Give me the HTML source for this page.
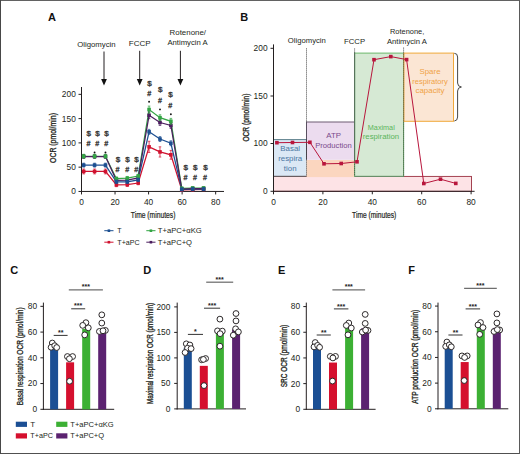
<!DOCTYPE html>
<html><head><meta charset="utf-8"><style>
html,body{margin:0;padding:0;background:#fff;}
body{width:520px;height:454px;overflow:hidden;}
svg{display:block;font-family:"Liberation Sans", sans-serif;}
</style></head><body>
<svg width="520" height="454" viewBox="0 0 520 454">
<text x="48" y="21" font-size="11" text-anchor="start" fill="#111" font-weight="bold" >A</text>
<text x="77.2" y="47.1" font-size="8" text-anchor="start" fill="#231f20" textLength="38.4" lengthAdjust="spacingAndGlyphs" >Oligomycin</text>
<text x="128.8" y="46.2" font-size="8" text-anchor="start" fill="#231f20" textLength="21.8" lengthAdjust="spacingAndGlyphs" >FCCP</text>
<text x="169.6" y="35.4" font-size="8" text-anchor="start" fill="#231f20" textLength="36.4" lengthAdjust="spacingAndGlyphs" >Rotenone/</text>
<text x="167.4" y="45.4" font-size="8" text-anchor="start" fill="#231f20" textLength="40.3" lengthAdjust="spacingAndGlyphs" >Antimycin A</text>
<line x1="104" y1="51.5" x2="104" y2="80.4" stroke="#231f20" stroke-width="1" />
<path d="M101.1,78.9 L106.9,78.9 L104,85.4 Z" fill="#111"/>
<line x1="139.7" y1="50.8" x2="139.7" y2="80.4" stroke="#231f20" stroke-width="1" />
<path d="M136.79999999999998,78.9 L142.6,78.9 L139.7,85.4 Z" fill="#111"/>
<line x1="180.4" y1="50.8" x2="180.4" y2="80.6" stroke="#231f20" stroke-width="1" />
<path d="M177.5,79.1 L183.3,79.1 L180.4,85.6 Z" fill="#111"/>
<line x1="81.5" y1="87" x2="81.5" y2="191.95" stroke="#231f20" stroke-width="1" />
<line x1="81.0" y1="191.45" x2="224" y2="191.45" stroke="#231f20" stroke-width="1" />
<line x1="78.5" y1="191.45" x2="81.5" y2="191.45" stroke="#231f20" stroke-width="1" />
<text x="75.8" y="194.35" font-size="8.4" text-anchor="end" fill="#231f20" >0</text>
<line x1="78.5" y1="167.17" x2="81.5" y2="167.17" stroke="#231f20" stroke-width="1" />
<text x="75.8" y="170.07" font-size="8.4" text-anchor="end" fill="#231f20" >50</text>
<line x1="78.5" y1="142.9" x2="81.5" y2="142.9" stroke="#231f20" stroke-width="1" />
<text x="75.8" y="145.8" font-size="8.4" text-anchor="end" fill="#231f20" >100</text>
<line x1="78.5" y1="118.62" x2="81.5" y2="118.62" stroke="#231f20" stroke-width="1" />
<text x="75.8" y="121.52000000000001" font-size="8.4" text-anchor="end" fill="#231f20" >150</text>
<line x1="78.5" y1="94.35" x2="81.5" y2="94.35" stroke="#231f20" stroke-width="1" />
<text x="75.8" y="97.25" font-size="8.4" text-anchor="end" fill="#231f20" >200</text>
<line x1="81.5" y1="191.45" x2="81.5" y2="194.45" stroke="#231f20" stroke-width="1" />
<text x="81.5" y="204.6" font-size="8.4" text-anchor="middle" fill="#231f20" >0</text>
<line x1="115.04" y1="191.45" x2="115.04" y2="194.45" stroke="#231f20" stroke-width="1" />
<text x="115.04" y="204.6" font-size="8.4" text-anchor="middle" fill="#231f20" >20</text>
<line x1="148.58" y1="191.45" x2="148.58" y2="194.45" stroke="#231f20" stroke-width="1" />
<text x="148.58" y="204.6" font-size="8.4" text-anchor="middle" fill="#231f20" >40</text>
<line x1="182.12" y1="191.45" x2="182.12" y2="194.45" stroke="#231f20" stroke-width="1" />
<text x="182.12" y="204.6" font-size="8.4" text-anchor="middle" fill="#231f20" >60</text>
<line x1="215.66" y1="191.45" x2="215.66" y2="194.45" stroke="#231f20" stroke-width="1" />
<text x="215.66" y="204.6" font-size="8.4" text-anchor="middle" fill="#231f20" >80</text>
<text x="130.8" y="217.6" font-size="9" text-anchor="start" fill="#231f20" textLength="44.6" lengthAdjust="spacingAndGlyphs" stroke="#231f20" stroke-width="0.22">Time (minutes)</text>
<text transform="translate(56.24,138) rotate(-90)" x="0" y="0" font-size="9" text-anchor="middle" fill="#231f20" stroke="#231f20" stroke-width="0.32" textLength="50" lengthAdjust="spacingAndGlyphs">OCR (pmol/min)</text>
<polyline points="83.68,171.45 94.58,171.45 105.48,171.45 116.38,184.94 127.28,184.7 138.18,183.01 149.08,146.87 159.98,151.93 170.88,154.82 181.78,189.76 192.69,189.52 203.59,189.28" fill="none" stroke="#d0122f" stroke-width="1.25"/>
<polyline points="83.68,165.13 94.58,165.13 105.48,165.13 116.38,181.81 127.28,181.81 138.18,179.88 149.08,131.83 159.98,139.06 170.88,143.25 181.78,189.38 192.69,189.14 203.59,189.14" fill="none" stroke="#1c4f91" stroke-width="1.25"/>
<polyline points="83.68,156.26 94.58,156.26 105.48,156.26 116.38,178.68 127.28,178.19 138.18,176.03 149.08,109.51 159.98,117.7 170.88,121.32 181.78,188.41 192.69,188.08 203.59,188.08" fill="none" stroke="#33a544" stroke-width="1.25"/>
<polyline points="83.68,156.5 94.58,156.5 105.48,156.5 116.38,180.36 127.28,180.12 138.18,177.95 149.08,115.29 159.98,122.52 170.88,125.42 181.78,189.04 192.69,188.56 203.59,188.56" fill="none" stroke="#4b1d5e" stroke-width="1.25"/>
<line x1="83.68" y1="168.99" x2="83.68" y2="173.91" stroke="#d0122f" stroke-width="0.8" />
<line x1="82.38000000000001" y1="168.99" x2="84.98" y2="168.99" stroke="#d0122f" stroke-width="0.7" />
<line x1="82.38000000000001" y1="173.91" x2="84.98" y2="173.91" stroke="#d0122f" stroke-width="0.7" />
<rect x="81.88000000000001" y="169.64999999999998" width="3.6" height="3.6" fill="#d0122f"/>
<line x1="94.58" y1="168.99" x2="94.58" y2="173.91" stroke="#d0122f" stroke-width="0.8" />
<line x1="93.28" y1="168.99" x2="95.88" y2="168.99" stroke="#d0122f" stroke-width="0.7" />
<line x1="93.28" y1="173.91" x2="95.88" y2="173.91" stroke="#d0122f" stroke-width="0.7" />
<rect x="92.78" y="169.64999999999998" width="3.6" height="3.6" fill="#d0122f"/>
<line x1="105.48" y1="168.99" x2="105.48" y2="173.91" stroke="#d0122f" stroke-width="0.8" />
<line x1="104.18" y1="168.99" x2="106.78" y2="168.99" stroke="#d0122f" stroke-width="0.7" />
<line x1="104.18" y1="173.91" x2="106.78" y2="173.91" stroke="#d0122f" stroke-width="0.7" />
<rect x="103.68" y="169.64999999999998" width="3.6" height="3.6" fill="#d0122f"/>
<line x1="116.38" y1="183.21" x2="116.38" y2="186.67" stroke="#d0122f" stroke-width="0.8" />
<line x1="115.08" y1="183.21" x2="117.67999999999999" y2="183.21" stroke="#d0122f" stroke-width="0.7" />
<line x1="115.08" y1="186.67" x2="117.67999999999999" y2="186.67" stroke="#d0122f" stroke-width="0.7" />
<rect x="114.58" y="183.14" width="3.6" height="3.6" fill="#d0122f"/>
<line x1="127.28" y1="182.97" x2="127.28" y2="186.43" stroke="#d0122f" stroke-width="0.8" />
<line x1="125.98" y1="182.97" x2="128.58" y2="182.97" stroke="#d0122f" stroke-width="0.7" />
<line x1="125.98" y1="186.43" x2="128.58" y2="186.43" stroke="#d0122f" stroke-width="0.7" />
<rect x="125.48" y="182.89999999999998" width="3.6" height="3.6" fill="#d0122f"/>
<line x1="138.18" y1="181.28" x2="138.18" y2="184.74" stroke="#d0122f" stroke-width="0.8" />
<line x1="136.88" y1="181.28" x2="139.48000000000002" y2="181.28" stroke="#d0122f" stroke-width="0.7" />
<line x1="136.88" y1="184.74" x2="139.48000000000002" y2="184.74" stroke="#d0122f" stroke-width="0.7" />
<rect x="136.38" y="181.20999999999998" width="3.6" height="3.6" fill="#d0122f"/>
<line x1="149.08" y1="141.26" x2="149.08" y2="152.48" stroke="#d0122f" stroke-width="0.8" />
<line x1="147.78" y1="141.26" x2="150.38000000000002" y2="141.26" stroke="#d0122f" stroke-width="0.7" />
<line x1="147.78" y1="152.48" x2="150.38000000000002" y2="152.48" stroke="#d0122f" stroke-width="0.7" />
<rect x="147.28" y="145.07" width="3.6" height="3.6" fill="#d0122f"/>
<line x1="159.98" y1="146.8" x2="159.98" y2="157.06" stroke="#d0122f" stroke-width="0.8" />
<line x1="158.67999999999998" y1="146.8" x2="161.28" y2="146.8" stroke="#d0122f" stroke-width="0.7" />
<line x1="158.67999999999998" y1="157.06" x2="161.28" y2="157.06" stroke="#d0122f" stroke-width="0.7" />
<rect x="158.17999999999998" y="150.13" width="3.6" height="3.6" fill="#d0122f"/>
<line x1="170.88" y1="150.42" x2="170.88" y2="159.22" stroke="#d0122f" stroke-width="0.8" />
<line x1="169.57999999999998" y1="150.42" x2="172.18" y2="150.42" stroke="#d0122f" stroke-width="0.7" />
<line x1="169.57999999999998" y1="159.22" x2="172.18" y2="159.22" stroke="#d0122f" stroke-width="0.7" />
<rect x="169.07999999999998" y="153.01999999999998" width="3.6" height="3.6" fill="#d0122f"/>
<line x1="181.78" y1="188.27" x2="181.78" y2="191.25" stroke="#d0122f" stroke-width="0.8" />
<line x1="180.48" y1="188.27" x2="183.08" y2="188.27" stroke="#d0122f" stroke-width="0.7" />
<line x1="180.48" y1="191.25" x2="183.08" y2="191.25" stroke="#d0122f" stroke-width="0.7" />
<rect x="179.98" y="187.95999999999998" width="3.6" height="3.6" fill="#d0122f"/>
<line x1="192.69" y1="188.03" x2="192.69" y2="191.01" stroke="#d0122f" stroke-width="0.8" />
<line x1="191.39" y1="188.03" x2="193.99" y2="188.03" stroke="#d0122f" stroke-width="0.7" />
<line x1="191.39" y1="191.01" x2="193.99" y2="191.01" stroke="#d0122f" stroke-width="0.7" />
<rect x="190.89" y="187.72" width="3.6" height="3.6" fill="#d0122f"/>
<line x1="203.59" y1="187.79" x2="203.59" y2="190.77" stroke="#d0122f" stroke-width="0.8" />
<line x1="202.29" y1="187.79" x2="204.89000000000001" y2="187.79" stroke="#d0122f" stroke-width="0.7" />
<line x1="202.29" y1="190.77" x2="204.89000000000001" y2="190.77" stroke="#d0122f" stroke-width="0.7" />
<rect x="201.79" y="187.48" width="3.6" height="3.6" fill="#d0122f"/>
<line x1="83.68" y1="154.53" x2="83.68" y2="158.47" stroke="#4b1d5e" stroke-width="0.8" />
<line x1="82.38000000000001" y1="154.53" x2="84.98" y2="154.53" stroke="#4b1d5e" stroke-width="0.7" />
<line x1="82.38000000000001" y1="158.47" x2="84.98" y2="158.47" stroke="#4b1d5e" stroke-width="0.7" />
<rect x="81.88000000000001" y="154.7" width="3.6" height="3.6" fill="#4b1d5e"/>
<line x1="94.58" y1="154.53" x2="94.58" y2="158.47" stroke="#4b1d5e" stroke-width="0.8" />
<line x1="93.28" y1="154.53" x2="95.88" y2="154.53" stroke="#4b1d5e" stroke-width="0.7" />
<line x1="93.28" y1="158.47" x2="95.88" y2="158.47" stroke="#4b1d5e" stroke-width="0.7" />
<rect x="92.78" y="154.7" width="3.6" height="3.6" fill="#4b1d5e"/>
<line x1="105.48" y1="154.53" x2="105.48" y2="158.47" stroke="#4b1d5e" stroke-width="0.8" />
<line x1="104.18" y1="154.53" x2="106.78" y2="154.53" stroke="#4b1d5e" stroke-width="0.7" />
<line x1="104.18" y1="158.47" x2="106.78" y2="158.47" stroke="#4b1d5e" stroke-width="0.7" />
<rect x="103.68" y="154.7" width="3.6" height="3.6" fill="#4b1d5e"/>
<line x1="116.38" y1="178.63" x2="116.38" y2="182.09" stroke="#4b1d5e" stroke-width="0.8" />
<line x1="115.08" y1="178.63" x2="117.67999999999999" y2="178.63" stroke="#4b1d5e" stroke-width="0.7" />
<line x1="115.08" y1="182.09" x2="117.67999999999999" y2="182.09" stroke="#4b1d5e" stroke-width="0.7" />
<rect x="114.58" y="178.56" width="3.6" height="3.6" fill="#4b1d5e"/>
<line x1="127.28" y1="178.39" x2="127.28" y2="181.85" stroke="#4b1d5e" stroke-width="0.8" />
<line x1="125.98" y1="178.39" x2="128.58" y2="178.39" stroke="#4b1d5e" stroke-width="0.7" />
<line x1="125.98" y1="181.85" x2="128.58" y2="181.85" stroke="#4b1d5e" stroke-width="0.7" />
<rect x="125.48" y="178.32" width="3.6" height="3.6" fill="#4b1d5e"/>
<line x1="138.18" y1="176.22" x2="138.18" y2="179.68" stroke="#4b1d5e" stroke-width="0.8" />
<line x1="136.88" y1="176.22" x2="139.48000000000002" y2="176.22" stroke="#4b1d5e" stroke-width="0.7" />
<line x1="136.88" y1="179.68" x2="139.48000000000002" y2="179.68" stroke="#4b1d5e" stroke-width="0.7" />
<rect x="136.38" y="176.14999999999998" width="3.6" height="3.6" fill="#4b1d5e"/>
<line x1="149.08" y1="111.86" x2="149.08" y2="118.72" stroke="#4b1d5e" stroke-width="0.8" />
<line x1="147.78" y1="111.86" x2="150.38000000000002" y2="111.86" stroke="#4b1d5e" stroke-width="0.7" />
<line x1="147.78" y1="118.72" x2="150.38000000000002" y2="118.72" stroke="#4b1d5e" stroke-width="0.7" />
<rect x="147.28" y="113.49000000000001" width="3.6" height="3.6" fill="#4b1d5e"/>
<line x1="159.98" y1="119.58" x2="159.98" y2="125.46" stroke="#4b1d5e" stroke-width="0.8" />
<line x1="158.67999999999998" y1="119.58" x2="161.28" y2="119.58" stroke="#4b1d5e" stroke-width="0.7" />
<line x1="158.67999999999998" y1="125.46" x2="161.28" y2="125.46" stroke="#4b1d5e" stroke-width="0.7" />
<rect x="158.17999999999998" y="120.72" width="3.6" height="3.6" fill="#4b1d5e"/>
<line x1="170.88" y1="122.48" x2="170.88" y2="128.36" stroke="#4b1d5e" stroke-width="0.8" />
<line x1="169.57999999999998" y1="122.48" x2="172.18" y2="122.48" stroke="#4b1d5e" stroke-width="0.7" />
<line x1="169.57999999999998" y1="128.36" x2="172.18" y2="128.36" stroke="#4b1d5e" stroke-width="0.7" />
<rect x="169.07999999999998" y="123.62" width="3.6" height="3.6" fill="#4b1d5e"/>
<line x1="181.78" y1="187.55" x2="181.78" y2="190.53" stroke="#4b1d5e" stroke-width="0.8" />
<line x1="180.48" y1="187.55" x2="183.08" y2="187.55" stroke="#4b1d5e" stroke-width="0.7" />
<line x1="180.48" y1="190.53" x2="183.08" y2="190.53" stroke="#4b1d5e" stroke-width="0.7" />
<rect x="179.98" y="187.23999999999998" width="3.6" height="3.6" fill="#4b1d5e"/>
<line x1="192.69" y1="187.07" x2="192.69" y2="190.05" stroke="#4b1d5e" stroke-width="0.8" />
<line x1="191.39" y1="187.07" x2="193.99" y2="187.07" stroke="#4b1d5e" stroke-width="0.7" />
<line x1="191.39" y1="190.05" x2="193.99" y2="190.05" stroke="#4b1d5e" stroke-width="0.7" />
<rect x="190.89" y="186.76" width="3.6" height="3.6" fill="#4b1d5e"/>
<line x1="203.59" y1="187.07" x2="203.59" y2="190.05" stroke="#4b1d5e" stroke-width="0.8" />
<line x1="202.29" y1="187.07" x2="204.89000000000001" y2="187.07" stroke="#4b1d5e" stroke-width="0.7" />
<line x1="202.29" y1="190.05" x2="204.89000000000001" y2="190.05" stroke="#4b1d5e" stroke-width="0.7" />
<rect x="201.79" y="186.76" width="3.6" height="3.6" fill="#4b1d5e"/>
<line x1="83.68" y1="154.29" x2="83.68" y2="158.23" stroke="#33a544" stroke-width="0.8" />
<line x1="82.38000000000001" y1="154.29" x2="84.98" y2="154.29" stroke="#33a544" stroke-width="0.7" />
<line x1="82.38000000000001" y1="158.23" x2="84.98" y2="158.23" stroke="#33a544" stroke-width="0.7" />
<rect x="81.88000000000001" y="154.45999999999998" width="3.6" height="3.6" fill="#33a544"/>
<line x1="94.58" y1="154.29" x2="94.58" y2="158.23" stroke="#33a544" stroke-width="0.8" />
<line x1="93.28" y1="154.29" x2="95.88" y2="154.29" stroke="#33a544" stroke-width="0.7" />
<line x1="93.28" y1="158.23" x2="95.88" y2="158.23" stroke="#33a544" stroke-width="0.7" />
<rect x="92.78" y="154.45999999999998" width="3.6" height="3.6" fill="#33a544"/>
<line x1="105.48" y1="154.29" x2="105.48" y2="158.23" stroke="#33a544" stroke-width="0.8" />
<line x1="104.18" y1="154.29" x2="106.78" y2="154.29" stroke="#33a544" stroke-width="0.7" />
<line x1="104.18" y1="158.23" x2="106.78" y2="158.23" stroke="#33a544" stroke-width="0.7" />
<rect x="103.68" y="154.45999999999998" width="3.6" height="3.6" fill="#33a544"/>
<line x1="116.38" y1="176.95" x2="116.38" y2="180.41" stroke="#33a544" stroke-width="0.8" />
<line x1="115.08" y1="176.95" x2="117.67999999999999" y2="176.95" stroke="#33a544" stroke-width="0.7" />
<line x1="115.08" y1="180.41" x2="117.67999999999999" y2="180.41" stroke="#33a544" stroke-width="0.7" />
<rect x="114.58" y="176.88" width="3.6" height="3.6" fill="#33a544"/>
<line x1="127.28" y1="176.46" x2="127.28" y2="179.92" stroke="#33a544" stroke-width="0.8" />
<line x1="125.98" y1="176.46" x2="128.58" y2="176.46" stroke="#33a544" stroke-width="0.7" />
<line x1="125.98" y1="179.92" x2="128.58" y2="179.92" stroke="#33a544" stroke-width="0.7" />
<rect x="125.48" y="176.39" width="3.6" height="3.6" fill="#33a544"/>
<line x1="138.18" y1="174.3" x2="138.18" y2="177.76" stroke="#33a544" stroke-width="0.8" />
<line x1="136.88" y1="174.3" x2="139.48000000000002" y2="174.3" stroke="#33a544" stroke-width="0.7" />
<line x1="136.88" y1="177.76" x2="139.48000000000002" y2="177.76" stroke="#33a544" stroke-width="0.7" />
<rect x="136.38" y="174.23" width="3.6" height="3.6" fill="#33a544"/>
<line x1="149.08" y1="106.08" x2="149.08" y2="112.94" stroke="#33a544" stroke-width="0.8" />
<line x1="147.78" y1="106.08" x2="150.38000000000002" y2="106.08" stroke="#33a544" stroke-width="0.7" />
<line x1="147.78" y1="112.94" x2="150.38000000000002" y2="112.94" stroke="#33a544" stroke-width="0.7" />
<rect x="147.28" y="107.71000000000001" width="3.6" height="3.6" fill="#33a544"/>
<line x1="159.98" y1="114.76" x2="159.98" y2="120.64" stroke="#33a544" stroke-width="0.8" />
<line x1="158.67999999999998" y1="114.76" x2="161.28" y2="114.76" stroke="#33a544" stroke-width="0.7" />
<line x1="158.67999999999998" y1="120.64" x2="161.28" y2="120.64" stroke="#33a544" stroke-width="0.7" />
<rect x="158.17999999999998" y="115.9" width="3.6" height="3.6" fill="#33a544"/>
<line x1="170.88" y1="118.38" x2="170.88" y2="124.26" stroke="#33a544" stroke-width="0.8" />
<line x1="169.57999999999998" y1="118.38" x2="172.18" y2="118.38" stroke="#33a544" stroke-width="0.7" />
<line x1="169.57999999999998" y1="124.26" x2="172.18" y2="124.26" stroke="#33a544" stroke-width="0.7" />
<rect x="169.07999999999998" y="119.52" width="3.6" height="3.6" fill="#33a544"/>
<line x1="181.78" y1="186.92" x2="181.78" y2="189.9" stroke="#33a544" stroke-width="0.8" />
<line x1="180.48" y1="186.92" x2="183.08" y2="186.92" stroke="#33a544" stroke-width="0.7" />
<line x1="180.48" y1="189.9" x2="183.08" y2="189.9" stroke="#33a544" stroke-width="0.7" />
<rect x="179.98" y="186.60999999999999" width="3.6" height="3.6" fill="#33a544"/>
<line x1="192.69" y1="186.59" x2="192.69" y2="189.57" stroke="#33a544" stroke-width="0.8" />
<line x1="191.39" y1="186.59" x2="193.99" y2="186.59" stroke="#33a544" stroke-width="0.7" />
<line x1="191.39" y1="189.57" x2="193.99" y2="189.57" stroke="#33a544" stroke-width="0.7" />
<rect x="190.89" y="186.28" width="3.6" height="3.6" fill="#33a544"/>
<line x1="203.59" y1="186.59" x2="203.59" y2="189.57" stroke="#33a544" stroke-width="0.8" />
<line x1="202.29" y1="186.59" x2="204.89000000000001" y2="186.59" stroke="#33a544" stroke-width="0.7" />
<line x1="202.29" y1="189.57" x2="204.89000000000001" y2="189.57" stroke="#33a544" stroke-width="0.7" />
<rect x="201.79" y="186.28" width="3.6" height="3.6" fill="#33a544"/>
<line x1="83.68" y1="163.16" x2="83.68" y2="167.1" stroke="#1c4f91" stroke-width="0.8" />
<line x1="82.38000000000001" y1="163.16" x2="84.98" y2="163.16" stroke="#1c4f91" stroke-width="0.7" />
<line x1="82.38000000000001" y1="167.1" x2="84.98" y2="167.1" stroke="#1c4f91" stroke-width="0.7" />
<rect x="81.88000000000001" y="163.32999999999998" width="3.6" height="3.6" fill="#1c4f91"/>
<line x1="94.58" y1="163.16" x2="94.58" y2="167.1" stroke="#1c4f91" stroke-width="0.8" />
<line x1="93.28" y1="163.16" x2="95.88" y2="163.16" stroke="#1c4f91" stroke-width="0.7" />
<line x1="93.28" y1="167.1" x2="95.88" y2="167.1" stroke="#1c4f91" stroke-width="0.7" />
<rect x="92.78" y="163.32999999999998" width="3.6" height="3.6" fill="#1c4f91"/>
<line x1="105.48" y1="163.16" x2="105.48" y2="167.1" stroke="#1c4f91" stroke-width="0.8" />
<line x1="104.18" y1="163.16" x2="106.78" y2="163.16" stroke="#1c4f91" stroke-width="0.7" />
<line x1="104.18" y1="167.1" x2="106.78" y2="167.1" stroke="#1c4f91" stroke-width="0.7" />
<rect x="103.68" y="163.32999999999998" width="3.6" height="3.6" fill="#1c4f91"/>
<line x1="116.38" y1="180.08" x2="116.38" y2="183.54" stroke="#1c4f91" stroke-width="0.8" />
<line x1="115.08" y1="180.08" x2="117.67999999999999" y2="180.08" stroke="#1c4f91" stroke-width="0.7" />
<line x1="115.08" y1="183.54" x2="117.67999999999999" y2="183.54" stroke="#1c4f91" stroke-width="0.7" />
<rect x="114.58" y="180.01" width="3.6" height="3.6" fill="#1c4f91"/>
<line x1="127.28" y1="180.08" x2="127.28" y2="183.54" stroke="#1c4f91" stroke-width="0.8" />
<line x1="125.98" y1="180.08" x2="128.58" y2="180.08" stroke="#1c4f91" stroke-width="0.7" />
<line x1="125.98" y1="183.54" x2="128.58" y2="183.54" stroke="#1c4f91" stroke-width="0.7" />
<rect x="125.48" y="180.01" width="3.6" height="3.6" fill="#1c4f91"/>
<line x1="138.18" y1="178.15" x2="138.18" y2="181.61" stroke="#1c4f91" stroke-width="0.8" />
<line x1="136.88" y1="178.15" x2="139.48000000000002" y2="178.15" stroke="#1c4f91" stroke-width="0.7" />
<line x1="136.88" y1="181.61" x2="139.48000000000002" y2="181.61" stroke="#1c4f91" stroke-width="0.7" />
<rect x="136.38" y="178.07999999999998" width="3.6" height="3.6" fill="#1c4f91"/>
<line x1="149.08" y1="129.37" x2="149.08" y2="134.29" stroke="#1c4f91" stroke-width="0.8" />
<line x1="147.78" y1="129.37" x2="150.38000000000002" y2="129.37" stroke="#1c4f91" stroke-width="0.7" />
<line x1="147.78" y1="134.29" x2="150.38000000000002" y2="134.29" stroke="#1c4f91" stroke-width="0.7" />
<rect x="147.28" y="130.03" width="3.6" height="3.6" fill="#1c4f91"/>
<line x1="159.98" y1="136.6" x2="159.98" y2="141.52" stroke="#1c4f91" stroke-width="0.8" />
<line x1="158.67999999999998" y1="136.6" x2="161.28" y2="136.6" stroke="#1c4f91" stroke-width="0.7" />
<line x1="158.67999999999998" y1="141.52" x2="161.28" y2="141.52" stroke="#1c4f91" stroke-width="0.7" />
<rect x="158.17999999999998" y="137.26" width="3.6" height="3.6" fill="#1c4f91"/>
<line x1="170.88" y1="140.79" x2="170.88" y2="145.71" stroke="#1c4f91" stroke-width="0.8" />
<line x1="169.57999999999998" y1="140.79" x2="172.18" y2="140.79" stroke="#1c4f91" stroke-width="0.7" />
<line x1="169.57999999999998" y1="145.71" x2="172.18" y2="145.71" stroke="#1c4f91" stroke-width="0.7" />
<rect x="169.07999999999998" y="141.45" width="3.6" height="3.6" fill="#1c4f91"/>
<line x1="181.78" y1="187.89" x2="181.78" y2="190.87" stroke="#1c4f91" stroke-width="0.8" />
<line x1="180.48" y1="187.89" x2="183.08" y2="187.89" stroke="#1c4f91" stroke-width="0.7" />
<line x1="180.48" y1="190.87" x2="183.08" y2="190.87" stroke="#1c4f91" stroke-width="0.7" />
<rect x="179.98" y="187.57999999999998" width="3.6" height="3.6" fill="#1c4f91"/>
<line x1="192.69" y1="187.65" x2="192.69" y2="190.63" stroke="#1c4f91" stroke-width="0.8" />
<line x1="191.39" y1="187.65" x2="193.99" y2="187.65" stroke="#1c4f91" stroke-width="0.7" />
<line x1="191.39" y1="190.63" x2="193.99" y2="190.63" stroke="#1c4f91" stroke-width="0.7" />
<rect x="190.89" y="187.33999999999997" width="3.6" height="3.6" fill="#1c4f91"/>
<line x1="203.59" y1="187.65" x2="203.59" y2="190.63" stroke="#1c4f91" stroke-width="0.8" />
<line x1="202.29" y1="187.65" x2="204.89000000000001" y2="187.65" stroke="#1c4f91" stroke-width="0.7" />
<line x1="202.29" y1="190.63" x2="204.89000000000001" y2="190.63" stroke="#1c4f91" stroke-width="0.7" />
<rect x="201.79" y="187.33999999999997" width="3.6" height="3.6" fill="#1c4f91"/>
<text x="88.7" y="135.6" font-size="7.4" text-anchor="middle" fill="#3a3a3a" textLength="4.5" lengthAdjust="spacingAndGlyphs" stroke="#3a3a3a" stroke-width="0.35">$</text>
<text x="88.4" y="146.0" font-size="7.2" text-anchor="middle" fill="#3a3a3a" stroke="#3a3a3a" stroke-width="0.35">#</text>
<text x="97.5" y="135.6" font-size="7.4" text-anchor="middle" fill="#3a3a3a" textLength="4.5" lengthAdjust="spacingAndGlyphs" stroke="#3a3a3a" stroke-width="0.35">$</text>
<text x="97.2" y="146.0" font-size="7.2" text-anchor="middle" fill="#3a3a3a" stroke="#3a3a3a" stroke-width="0.35">#</text>
<circle cx="94.58" cy="152.5" r="0.95" fill="#111"/>
<text x="106.6" y="135.6" font-size="7.4" text-anchor="middle" fill="#3a3a3a" textLength="4.5" lengthAdjust="spacingAndGlyphs" stroke="#3a3a3a" stroke-width="0.35">$</text>
<text x="106.3" y="146.0" font-size="7.2" text-anchor="middle" fill="#3a3a3a" stroke="#3a3a3a" stroke-width="0.35">#</text>
<circle cx="105.48" cy="152.5" r="0.95" fill="#111"/>
<text x="117.9" y="161.7" font-size="7.4" text-anchor="middle" fill="#3a3a3a" textLength="4.5" lengthAdjust="spacingAndGlyphs" stroke="#3a3a3a" stroke-width="0.35">$</text>
<text x="117.60000000000001" y="171.5" font-size="7.2" text-anchor="middle" fill="#3a3a3a" stroke="#3a3a3a" stroke-width="0.35">#</text>
<text x="127.6" y="161.7" font-size="7.4" text-anchor="middle" fill="#3a3a3a" textLength="4.5" lengthAdjust="spacingAndGlyphs" stroke="#3a3a3a" stroke-width="0.35">$</text>
<text x="127.3" y="171.5" font-size="7.2" text-anchor="middle" fill="#3a3a3a" stroke="#3a3a3a" stroke-width="0.35">#</text>
<text x="136.5" y="161.7" font-size="7.4" text-anchor="middle" fill="#3a3a3a" textLength="4.5" lengthAdjust="spacingAndGlyphs" stroke="#3a3a3a" stroke-width="0.35">$</text>
<text x="136.2" y="171.5" font-size="7.2" text-anchor="middle" fill="#3a3a3a" stroke="#3a3a3a" stroke-width="0.35">#</text>
<text x="149.5" y="85.89999999999999" font-size="7.4" text-anchor="middle" fill="#3a3a3a" textLength="4.5" lengthAdjust="spacingAndGlyphs" stroke="#3a3a3a" stroke-width="0.35">$</text>
<text x="149.2" y="95.5" font-size="7.2" text-anchor="middle" fill="#3a3a3a" stroke="#3a3a3a" stroke-width="0.35">#</text>
<circle cx="149.08" cy="101.8" r="0.95" fill="#111"/>
<text x="160.2" y="92.3" font-size="7.4" text-anchor="middle" fill="#3a3a3a" textLength="4.5" lengthAdjust="spacingAndGlyphs" stroke="#3a3a3a" stroke-width="0.35">$</text>
<text x="159.89999999999998" y="103.3" font-size="7.2" text-anchor="middle" fill="#3a3a3a" stroke="#3a3a3a" stroke-width="0.35">#</text>
<circle cx="159.98" cy="109.4" r="0.95" fill="#111"/>
<text x="170.6" y="96.6" font-size="7.4" text-anchor="middle" fill="#3a3a3a" textLength="4.5" lengthAdjust="spacingAndGlyphs" stroke="#3a3a3a" stroke-width="0.35">$</text>
<text x="170.29999999999998" y="107.6" font-size="7.2" text-anchor="middle" fill="#3a3a3a" stroke="#3a3a3a" stroke-width="0.35">#</text>
<circle cx="170.88" cy="114.2" r="0.95" fill="#111"/>
<text x="185.7" y="169.6" font-size="7.4" text-anchor="middle" fill="#3a3a3a" textLength="4.5" lengthAdjust="spacingAndGlyphs" stroke="#3a3a3a" stroke-width="0.35">$</text>
<text x="185.39999999999998" y="180.0" font-size="7.2" text-anchor="middle" fill="#3a3a3a" stroke="#3a3a3a" stroke-width="0.35">#</text>
<text x="195.2" y="169.6" font-size="7.4" text-anchor="middle" fill="#3a3a3a" textLength="4.5" lengthAdjust="spacingAndGlyphs" stroke="#3a3a3a" stroke-width="0.35">$</text>
<text x="194.89999999999998" y="180.0" font-size="7.2" text-anchor="middle" fill="#3a3a3a" stroke="#3a3a3a" stroke-width="0.35">#</text>
<text x="205.4" y="169.6" font-size="7.4" text-anchor="middle" fill="#3a3a3a" textLength="4.5" lengthAdjust="spacingAndGlyphs" stroke="#3a3a3a" stroke-width="0.35">$</text>
<text x="205.1" y="180.0" font-size="7.2" text-anchor="middle" fill="#3a3a3a" stroke="#3a3a3a" stroke-width="0.35">#</text>
<line x1="104.3" y1="230.7" x2="113.5" y2="230.7" stroke="#1c4f91" stroke-width="1" />
<rect x="107.60000000000001" y="229.39999999999998" width="2.6" height="2.6" fill="#1c4f91"/>
<text x="117.3" y="233.2" font-size="7" text-anchor="start" fill="#231f20" >T</text>
<line x1="104.3" y1="242.2" x2="113.5" y2="242.2" stroke="#d0122f" stroke-width="1" />
<rect x="107.60000000000001" y="240.89999999999998" width="2.6" height="2.6" fill="#d0122f"/>
<text x="117.3" y="244.6" font-size="7" text-anchor="start" fill="#231f20" textLength="22.3" lengthAdjust="spacingAndGlyphs" >T+aPC</text>
<line x1="146.3" y1="230.7" x2="155.5" y2="230.7" stroke="#33a544" stroke-width="1" />
<rect x="149.6" y="229.39999999999998" width="2.6" height="2.6" fill="#33a544"/>
<text x="157.8" y="233.2" font-size="7" text-anchor="start" fill="#231f20" textLength="44" lengthAdjust="spacingAndGlyphs" >T+aPC+&#945;KG</text>
<line x1="146.3" y1="242.2" x2="155.5" y2="242.2" stroke="#4b1d5e" stroke-width="1" />
<rect x="149.6" y="240.89999999999998" width="2.6" height="2.6" fill="#4b1d5e"/>
<text x="157.8" y="244.6" font-size="7" text-anchor="start" fill="#231f20" textLength="34.2" lengthAdjust="spacingAndGlyphs" >T+aPC+Q</text>
<text x="240.3" y="21" font-size="11" text-anchor="start" fill="#111" font-weight="bold" >B</text>
<rect x="273.5" y="176.4" width="198" height="14.9" fill="#fde3e6" stroke="#9a3040" stroke-width="0.9"/>
<rect x="273.5" y="139.6" width="33" height="36.7" fill="#dbe8f5"/>
<line x1="273.5" y1="139.6" x2="306.5" y2="139.6" stroke="#5d7f8c" stroke-width="1" />
<line x1="273.5" y1="176.3" x2="306.5" y2="176.3" stroke="#555" stroke-width="1" />
<rect x="306.5" y="159.8" width="48" height="17.3" fill="#fbd6bf"/>
<rect x="306.5" y="122" width="48" height="37.8" fill="#ecdcef"/>
<line x1="306.5" y1="122" x2="354.6" y2="122" stroke="#6d5a73" stroke-width="1" />
<line x1="306.5" y1="121.5" x2="306.5" y2="159.8" stroke="#5a5060" stroke-width="1" />
<rect x="354.6" y="53.1" width="49" height="123.3" fill="#d6e9d4" stroke="#6cb86c" stroke-width="1"/>
<line x1="354.6" y1="176.4" x2="403.6" y2="176.4" stroke="#6a8a6a" stroke-width="1" />
<line x1="354.6" y1="52.6" x2="354.6" y2="160" stroke="#55705a" stroke-width="1.1" />
<rect x="403.9" y="53.1" width="49.6" height="68.2" fill="#fbe6d4" stroke="#f0a83a" stroke-width="1"/>
<line x1="306.5" y1="48.4" x2="306.5" y2="122" stroke="#333" stroke-width="0.9" stroke-dasharray="1 1"/>
<line x1="306.5" y1="139.6" x2="306.5" y2="176.3" stroke="#333" stroke-width="0.9" stroke-dasharray="1 1"/>
<line x1="354.6" y1="48.5" x2="354.6" y2="53" stroke="#333" stroke-width="0.9" stroke-dasharray="1 1"/>
<line x1="354.6" y1="160.3" x2="354.6" y2="176.3" stroke="#333" stroke-width="0.9" stroke-dasharray="1 1"/>
<line x1="403.6" y1="47.6" x2="403.6" y2="176.3" stroke="#333" stroke-width="0.9" stroke-dasharray="1 1"/>
<path d="M454.3,53.3 Q457.6,53.3 457.6,57 L457.6,83 Q457.6,86.6 461.4,87 Q457.6,87.4 457.6,91 L457.6,117 Q457.6,120.8 454.3,121" fill="none" stroke="#333" stroke-width="0.9"/>
<line x1="273.5" y1="44.4" x2="273.5" y2="191.8" stroke="#231f20" stroke-width="1" />
<line x1="273" y1="191.3" x2="474.6" y2="191.3" stroke="#231f20" stroke-width="1" />
<line x1="270.5" y1="48.3" x2="273.5" y2="48.3" stroke="#231f20" stroke-width="1" />
<text x="267.6" y="51.199999999999996" font-size="8.4" text-anchor="end" fill="#231f20" >200</text>
<line x1="270.5" y1="96" x2="273.5" y2="96" stroke="#231f20" stroke-width="1" />
<text x="267.6" y="98.9" font-size="8.4" text-anchor="end" fill="#231f20" >150</text>
<line x1="270.5" y1="143.5" x2="273.5" y2="143.5" stroke="#231f20" stroke-width="1" />
<text x="267.6" y="146.4" font-size="8.4" text-anchor="end" fill="#231f20" >100</text>
<line x1="270.5" y1="191.3" x2="273.5" y2="191.3" stroke="#231f20" stroke-width="1" />
<text x="267.6" y="194.20000000000002" font-size="8.4" text-anchor="end" fill="#231f20" >0</text>
<line x1="273.5" y1="191.3" x2="273.5" y2="194.3" stroke="#231f20" stroke-width="1" />
<text x="273.5" y="204.6" font-size="8.4" text-anchor="middle" fill="#231f20" >0</text>
<line x1="322.9" y1="191.3" x2="322.9" y2="194.3" stroke="#231f20" stroke-width="1" />
<text x="322.9" y="204.6" font-size="8.4" text-anchor="middle" fill="#231f20" >20</text>
<line x1="372.3" y1="191.3" x2="372.3" y2="194.3" stroke="#231f20" stroke-width="1" />
<text x="372.3" y="204.6" font-size="8.4" text-anchor="middle" fill="#231f20" >40</text>
<line x1="421.7" y1="191.3" x2="421.7" y2="194.3" stroke="#231f20" stroke-width="1" />
<text x="421.7" y="204.6" font-size="8.4" text-anchor="middle" fill="#231f20" >60</text>
<line x1="471.1" y1="191.3" x2="471.1" y2="194.3" stroke="#231f20" stroke-width="1" />
<text x="471.1" y="204.6" font-size="8.4" text-anchor="middle" fill="#231f20" >80</text>
<text x="352.1" y="217.7" font-size="9" text-anchor="start" fill="#231f20" textLength="44.2" lengthAdjust="spacingAndGlyphs" stroke="#231f20" stroke-width="0.22">Time (minutes)</text>
<text transform="translate(248.54000000000002,117.6) rotate(-90)" x="0" y="0" font-size="9" text-anchor="middle" fill="#231f20" stroke="#231f20" stroke-width="0.32" textLength="48" lengthAdjust="spacingAndGlyphs">OCR (pmol/min)</text>
<text x="287.8" y="43.2" font-size="8" text-anchor="start" fill="#231f20" textLength="38" lengthAdjust="spacingAndGlyphs" >Oligomycin</text>
<text x="344" y="43.6" font-size="8" text-anchor="start" fill="#231f20" textLength="21.1" lengthAdjust="spacingAndGlyphs" >FCCP</text>
<text x="390" y="34.2" font-size="8" text-anchor="start" fill="#231f20" textLength="34.2" lengthAdjust="spacingAndGlyphs" >Rotenone,</text>
<text x="386.9" y="43.6" font-size="8" text-anchor="start" fill="#231f20" textLength="40" lengthAdjust="spacingAndGlyphs" >Antimycin A</text>
<text x="290.2" y="151.2" font-size="7.9" text-anchor="middle" fill="#4b77a3" >Basal</text>
<text x="290.2" y="160.9" font-size="7.9" text-anchor="middle" fill="#4b77a3" >respira</text>
<text x="290.2" y="170.6" font-size="7.9" text-anchor="middle" fill="#4b77a3" >tion</text>
<text x="333.6" y="138.3" font-size="7.9" text-anchor="middle" fill="#7a4b8c" >ATP</text>
<text x="333.5" y="147.8" font-size="7.9" text-anchor="middle" fill="#7a4b8c" textLength="36.6" lengthAdjust="spacingAndGlyphs" >Production</text>
<text x="381.3" y="129.8" font-size="7.9" text-anchor="middle" fill="#5ab55a" textLength="26.9" lengthAdjust="spacingAndGlyphs" >Maximal</text>
<text x="380.9" y="138.6" font-size="7.9" text-anchor="middle" fill="#5ab55a" textLength="36.3" lengthAdjust="spacingAndGlyphs" >respiration</text>
<text x="430" y="74.2" font-size="7.9" text-anchor="middle" fill="#f0a244" >Spare</text>
<text x="430" y="83.6" font-size="7.9" text-anchor="middle" fill="#f0a244" textLength="35.5" lengthAdjust="spacingAndGlyphs" >respiratory</text>
<text x="430" y="92.8" font-size="7.9" text-anchor="middle" fill="#f0a244" >capacity</text>
<polyline points="276.9,142.7 292.5,142.5 309.9,142.3 324,163.8 341.2,163.5 357,161.8 374,59.7 390.8,56.6 406.6,59.6 423.8,183.5 440.5,179.2 455.8,183.4" fill="none" stroke="#b8163c" stroke-width="1"/>
<rect x="275.09999999999997" y="140.89999999999998" width="3.6" height="3.6" fill="#b8163c"/>
<rect x="290.7" y="140.7" width="3.6" height="3.6" fill="#b8163c"/>
<rect x="308.09999999999997" y="140.5" width="3.6" height="3.6" fill="#b8163c"/>
<rect x="322.2" y="162.0" width="3.6" height="3.6" fill="#b8163c"/>
<rect x="339.4" y="161.7" width="3.6" height="3.6" fill="#b8163c"/>
<rect x="355.2" y="160.0" width="3.6" height="3.6" fill="#b8163c"/>
<rect x="372.2" y="57.900000000000006" width="3.6" height="3.6" fill="#b8163c"/>
<rect x="389.0" y="54.800000000000004" width="3.6" height="3.6" fill="#b8163c"/>
<rect x="404.8" y="57.800000000000004" width="3.6" height="3.6" fill="#b8163c"/>
<rect x="422.0" y="181.7" width="3.6" height="3.6" fill="#b8163c"/>
<rect x="438.7" y="177.39999999999998" width="3.6" height="3.6" fill="#b8163c"/>
<rect x="454.0" y="181.6" width="3.6" height="3.6" fill="#b8163c"/>
<text x="10.3" y="274" font-size="11" text-anchor="start" fill="#111" font-weight="bold" >C</text>
<line x1="43.4" y1="302.6" x2="43.4" y2="409.8" stroke="#231f20" stroke-width="1" />
<line x1="42.9" y1="409.3" x2="114.2" y2="409.3" stroke="#231f20" stroke-width="1" />
<line x1="40.4" y1="409.3" x2="43.4" y2="409.3" stroke="#231f20" stroke-width="1" />
<text x="37.2" y="412.2" font-size="8.4" text-anchor="end" fill="#231f20" >0</text>
<line x1="40.4" y1="383.56" x2="43.4" y2="383.56" stroke="#231f20" stroke-width="1" />
<text x="37.2" y="386.46" font-size="8.4" text-anchor="end" fill="#231f20" >20</text>
<line x1="40.4" y1="357.82" x2="43.4" y2="357.82" stroke="#231f20" stroke-width="1" />
<text x="37.2" y="360.71999999999997" font-size="8.4" text-anchor="end" fill="#231f20" >40</text>
<line x1="40.4" y1="332.08" x2="43.4" y2="332.08" stroke="#231f20" stroke-width="1" />
<text x="37.2" y="334.97999999999996" font-size="8.4" text-anchor="end" fill="#231f20" >60</text>
<line x1="40.4" y1="306.34" x2="43.4" y2="306.34" stroke="#231f20" stroke-width="1" />
<text x="37.2" y="309.23999999999995" font-size="8.4" text-anchor="end" fill="#231f20" >80</text>
<rect x="50.1" y="347.78" width="8" height="61.52" fill="#1b4f94"/>
<rect x="66.1" y="362.32" width="8" height="46.98" fill="#d5102e"/>
<rect x="82.2" y="328.86" width="8" height="80.44" fill="#3cb034"/>
<rect x="98.2" y="329.76" width="8" height="79.54" fill="#5b2270"/>
<circle cx="52.3" cy="343.02" r="2.9" fill="#fff" stroke="#231f20" stroke-width="0.95"/>
<circle cx="51.1" cy="347.27" r="2.9" fill="#fff" stroke="#231f20" stroke-width="0.95"/>
<circle cx="54.7" cy="345.72" r="2.9" fill="#fff" stroke="#231f20" stroke-width="0.95"/>
<circle cx="56.7" cy="347.52" r="2.9" fill="#fff" stroke="#231f20" stroke-width="0.95"/>
<circle cx="67.4" cy="356.53" r="2.9" fill="#fff" stroke="#231f20" stroke-width="0.95"/>
<circle cx="72.6" cy="356.53" r="2.9" fill="#fff" stroke="#231f20" stroke-width="0.95"/>
<circle cx="69.4" cy="358.72" r="2.9" fill="#fff" stroke="#231f20" stroke-width="0.95"/>
<circle cx="69.6" cy="381.24" r="2.9" fill="#fff" stroke="#231f20" stroke-width="0.95"/>
<circle cx="85.9" cy="322.68" r="2.9" fill="#fff" stroke="#231f20" stroke-width="0.95"/>
<circle cx="82.7" cy="325.39" r="2.9" fill="#fff" stroke="#231f20" stroke-width="0.95"/>
<circle cx="88.3" cy="327.83" r="2.9" fill="#fff" stroke="#231f20" stroke-width="0.95"/>
<circle cx="84.7" cy="334.91" r="2.9" fill="#fff" stroke="#231f20" stroke-width="0.95"/>
<circle cx="101.8" cy="314.83" r="2.9" fill="#fff" stroke="#231f20" stroke-width="0.95"/>
<circle cx="101.8" cy="323.07" r="2.9" fill="#fff" stroke="#231f20" stroke-width="0.95"/>
<circle cx="99.4" cy="331.44" r="2.9" fill="#fff" stroke="#231f20" stroke-width="0.95"/>
<circle cx="105.4" cy="330.41" r="2.9" fill="#fff" stroke="#231f20" stroke-width="0.95"/>
<circle cx="103" cy="330.79" r="2.9" fill="#fff" stroke="#231f20" stroke-width="0.95"/>
<line x1="53.7" y1="335.4" x2="67.6" y2="335.4" stroke="#333" stroke-width="1" />
<text x="60.65" y="335.0" font-size="7" text-anchor="middle" fill="#222" font-weight="bold" >**</text>
<line x1="71.2" y1="308.8" x2="85.2" y2="308.8" stroke="#333" stroke-width="1" />
<text x="78.2" y="308.40000000000003" font-size="7" text-anchor="middle" fill="#222" font-weight="bold" >***</text>
<line x1="68.8" y1="289.8" x2="102.9" y2="289.8" stroke="#6e6e6e" stroke-width="1.25" />
<text x="85.85" y="289.40000000000003" font-size="7" text-anchor="middle" fill="#222" font-weight="bold" >***</text>
<text transform="translate(22.596,356.3) rotate(-90)" x="0" y="0" font-size="8.6" text-anchor="middle" fill="#231f20" stroke="#231f20" stroke-width="0.32" textLength="98" lengthAdjust="spacingAndGlyphs">Basal respiration OCR (pmol/min)</text>
<text x="143.3" y="274" font-size="11" text-anchor="start" fill="#111" font-weight="bold" >D</text>
<line x1="177.2" y1="302.6" x2="177.2" y2="409.4" stroke="#231f20" stroke-width="1" />
<line x1="176.7" y1="408.9" x2="246" y2="408.9" stroke="#231f20" stroke-width="1" />
<line x1="174.2" y1="408.9" x2="177.2" y2="408.9" stroke="#231f20" stroke-width="1" />
<text x="170.4" y="411.79999999999995" font-size="8.4" text-anchor="end" fill="#231f20" >0</text>
<line x1="174.2" y1="383.4" x2="177.2" y2="383.4" stroke="#231f20" stroke-width="1" />
<text x="170.4" y="386.29999999999995" font-size="8.4" text-anchor="end" fill="#231f20" >50</text>
<line x1="174.2" y1="357.9" x2="177.2" y2="357.9" stroke="#231f20" stroke-width="1" />
<text x="170.4" y="360.79999999999995" font-size="8.4" text-anchor="end" fill="#231f20" >100</text>
<line x1="174.2" y1="332.4" x2="177.2" y2="332.4" stroke="#231f20" stroke-width="1" />
<text x="170.4" y="335.29999999999995" font-size="8.4" text-anchor="end" fill="#231f20" >150</text>
<line x1="174.2" y1="306.9" x2="177.2" y2="306.9" stroke="#231f20" stroke-width="1" />
<text x="170.4" y="309.79999999999995" font-size="8.4" text-anchor="end" fill="#231f20" >200</text>
<rect x="183.8" y="347.7" width="8" height="61.2" fill="#1b4f94"/>
<rect x="199.8" y="365.86" width="8" height="43.04" fill="#d5102e"/>
<rect x="215.9" y="331.89" width="8" height="77.01" fill="#3cb034"/>
<rect x="232.1" y="329.34" width="8" height="79.56" fill="#5b2270"/>
<circle cx="186.3" cy="343.82" r="2.9" fill="#fff" stroke="#231f20" stroke-width="0.95"/>
<circle cx="189.9" cy="345.0" r="2.9" fill="#fff" stroke="#231f20" stroke-width="0.95"/>
<circle cx="187.5" cy="348.21" r="2.9" fill="#fff" stroke="#231f20" stroke-width="0.95"/>
<circle cx="191.1" cy="348.62" r="2.9" fill="#fff" stroke="#231f20" stroke-width="0.95"/>
<circle cx="185.1" cy="352.49" r="2.9" fill="#fff" stroke="#231f20" stroke-width="0.95"/>
<circle cx="201.6" cy="359.79" r="2.9" fill="#fff" stroke="#231f20" stroke-width="0.95"/>
<circle cx="205.6" cy="358.51" r="2.9" fill="#fff" stroke="#231f20" stroke-width="0.95"/>
<circle cx="203.4" cy="359.43" r="2.9" fill="#fff" stroke="#231f20" stroke-width="0.95"/>
<circle cx="204" cy="385.59" r="2.9" fill="#fff" stroke="#231f20" stroke-width="0.95"/>
<circle cx="219.9" cy="319.14" r="2.9" fill="#fff" stroke="#231f20" stroke-width="0.95"/>
<circle cx="217.5" cy="330.87" r="2.9" fill="#fff" stroke="#231f20" stroke-width="0.95"/>
<circle cx="222.3" cy="331.12" r="2.9" fill="#fff" stroke="#231f20" stroke-width="0.95"/>
<circle cx="220.1" cy="333.67" r="2.9" fill="#fff" stroke="#231f20" stroke-width="0.95"/>
<circle cx="219.9" cy="346.17" r="2.9" fill="#fff" stroke="#231f20" stroke-width="0.95"/>
<circle cx="236" cy="313.53" r="2.9" fill="#fff" stroke="#231f20" stroke-width="0.95"/>
<circle cx="236" cy="320.92" r="2.9" fill="#fff" stroke="#231f20" stroke-width="0.95"/>
<circle cx="235.6" cy="328.83" r="2.9" fill="#fff" stroke="#231f20" stroke-width="0.95"/>
<circle cx="238.4" cy="331.89" r="2.9" fill="#fff" stroke="#231f20" stroke-width="0.95"/>
<circle cx="233.3" cy="335.2" r="2.9" fill="#fff" stroke="#231f20" stroke-width="0.95"/>
<line x1="187.9" y1="334.4" x2="203" y2="334.4" stroke="#333" stroke-width="1" />
<text x="195.45" y="334.0" font-size="7" text-anchor="middle" fill="#222" font-weight="bold" >*</text>
<line x1="204" y1="308.2" x2="220.1" y2="308.2" stroke="#333" stroke-width="1" />
<text x="212.05" y="307.8" font-size="7" text-anchor="middle" fill="#222" font-weight="bold" >***</text>
<line x1="206.2" y1="282.2" x2="233.2" y2="282.2" stroke="#6e6e6e" stroke-width="1.25" />
<text x="219.7" y="281.8" font-size="7" text-anchor="middle" fill="#222" font-weight="bold" >***</text>
<text transform="translate(152.696,353.5) rotate(-90)" x="0" y="0" font-size="8.6" text-anchor="middle" fill="#231f20" stroke="#231f20" stroke-width="0.32" textLength="101" lengthAdjust="spacingAndGlyphs">Maximal respiration OCR (pmol/min)</text>
<text x="277.9" y="274" font-size="11" text-anchor="start" fill="#111" font-weight="bold" >E</text>
<line x1="306.3" y1="302.6" x2="306.3" y2="409.8" stroke="#231f20" stroke-width="1" />
<line x1="305.8" y1="409.3" x2="375.6" y2="409.3" stroke="#231f20" stroke-width="1" />
<line x1="303.3" y1="409.3" x2="306.3" y2="409.3" stroke="#231f20" stroke-width="1" />
<text x="300.1" y="412.2" font-size="8.4" text-anchor="end" fill="#231f20" >0</text>
<line x1="303.3" y1="383.62" x2="306.3" y2="383.62" stroke="#231f20" stroke-width="1" />
<text x="300.1" y="386.52" font-size="8.4" text-anchor="end" fill="#231f20" >20</text>
<line x1="303.3" y1="357.94" x2="306.3" y2="357.94" stroke="#231f20" stroke-width="1" />
<text x="300.1" y="360.84" font-size="8.4" text-anchor="end" fill="#231f20" >40</text>
<line x1="303.3" y1="332.26" x2="306.3" y2="332.26" stroke="#231f20" stroke-width="1" />
<text x="300.1" y="335.15999999999997" font-size="8.4" text-anchor="end" fill="#231f20" >60</text>
<line x1="303.3" y1="306.58" x2="306.3" y2="306.58" stroke="#231f20" stroke-width="1" />
<text x="300.1" y="309.47999999999996" font-size="8.4" text-anchor="end" fill="#231f20" >80</text>
<rect x="313.0" y="347.03" width="8" height="62.27" fill="#1b4f94"/>
<rect x="329.0" y="362.56" width="8" height="46.74" fill="#d5102e"/>
<rect x="345.1" y="327.77" width="8" height="81.53" fill="#3cb034"/>
<rect x="361.1" y="328.41" width="8" height="80.89" fill="#5b2270"/>
<circle cx="315.2" cy="342.53" r="2.9" fill="#fff" stroke="#231f20" stroke-width="0.95"/>
<circle cx="314.0" cy="346.9" r="2.9" fill="#fff" stroke="#231f20" stroke-width="0.95"/>
<circle cx="317.6" cy="345.36" r="2.9" fill="#fff" stroke="#231f20" stroke-width="0.95"/>
<circle cx="319.6" cy="347.28" r="2.9" fill="#fff" stroke="#231f20" stroke-width="0.95"/>
<circle cx="330.3" cy="356.4" r="2.9" fill="#fff" stroke="#231f20" stroke-width="0.95"/>
<circle cx="335.5" cy="356.4" r="2.9" fill="#fff" stroke="#231f20" stroke-width="0.95"/>
<circle cx="332.9" cy="357.94" r="2.9" fill="#fff" stroke="#231f20" stroke-width="0.95"/>
<circle cx="332.5" cy="381.05" r="2.9" fill="#fff" stroke="#231f20" stroke-width="0.95"/>
<circle cx="348.8" cy="323.02" r="2.9" fill="#fff" stroke="#231f20" stroke-width="0.95"/>
<circle cx="346.3" cy="325.45" r="2.9" fill="#fff" stroke="#231f20" stroke-width="0.95"/>
<circle cx="351.3" cy="328.02" r="2.9" fill="#fff" stroke="#231f20" stroke-width="0.95"/>
<circle cx="348.0" cy="334.83" r="2.9" fill="#fff" stroke="#231f20" stroke-width="0.95"/>
<circle cx="365.2" cy="314.41" r="2.9" fill="#fff" stroke="#231f20" stroke-width="0.95"/>
<circle cx="365.2" cy="323.4" r="2.9" fill="#fff" stroke="#231f20" stroke-width="0.95"/>
<circle cx="362.3" cy="332.0" r="2.9" fill="#fff" stroke="#231f20" stroke-width="0.95"/>
<circle cx="368.0" cy="330.46" r="2.9" fill="#fff" stroke="#231f20" stroke-width="0.95"/>
<circle cx="365.6" cy="330.08" r="2.9" fill="#fff" stroke="#231f20" stroke-width="0.95"/>
<line x1="316.70000000000005" y1="335" x2="330.80000000000007" y2="335" stroke="#333" stroke-width="1" />
<text x="323.75000000000006" y="334.6" font-size="7" text-anchor="middle" fill="#222" font-weight="bold" >**</text>
<line x1="333.90000000000003" y1="308.9" x2="348.40000000000003" y2="308.9" stroke="#333" stroke-width="1" />
<text x="341.15000000000003" y="308.5" font-size="7" text-anchor="middle" fill="#222" font-weight="bold" >***</text>
<line x1="332.40000000000003" y1="289.8" x2="365.1" y2="289.8" stroke="#6e6e6e" stroke-width="1.25" />
<text x="348.75" y="289.40000000000003" font-size="7" text-anchor="middle" fill="#222" font-weight="bold" >***</text>
<text transform="translate(286.696,356) rotate(-90)" x="0" y="0" font-size="8.6" text-anchor="middle" fill="#231f20" stroke="#231f20" stroke-width="0.32" textLength="62.5" lengthAdjust="spacingAndGlyphs">SRC OCR (pmol/min)</text>
<text x="408.2" y="274" font-size="11" text-anchor="start" fill="#111" font-weight="bold" >F</text>
<line x1="438" y1="302.6" x2="438" y2="409.3" stroke="#231f20" stroke-width="1" />
<line x1="437.5" y1="408.8" x2="508.3" y2="408.8" stroke="#231f20" stroke-width="1" />
<line x1="435" y1="408.8" x2="438" y2="408.8" stroke="#231f20" stroke-width="1" />
<text x="431.7" y="411.7" font-size="8.4" text-anchor="end" fill="#231f20" >0</text>
<line x1="435" y1="383.12" x2="438" y2="383.12" stroke="#231f20" stroke-width="1" />
<text x="431.7" y="386.02" font-size="8.4" text-anchor="end" fill="#231f20" >20</text>
<line x1="435" y1="357.44" x2="438" y2="357.44" stroke="#231f20" stroke-width="1" />
<text x="431.7" y="360.34" font-size="8.4" text-anchor="end" fill="#231f20" >40</text>
<line x1="435" y1="331.76" x2="438" y2="331.76" stroke="#231f20" stroke-width="1" />
<text x="431.7" y="334.65999999999997" font-size="8.4" text-anchor="end" fill="#231f20" >60</text>
<line x1="435" y1="306.08" x2="438" y2="306.08" stroke="#231f20" stroke-width="1" />
<text x="431.7" y="308.97999999999996" font-size="8.4" text-anchor="end" fill="#231f20" >80</text>
<rect x="444.7" y="346.53" width="8" height="62.27" fill="#1b4f94"/>
<rect x="460.7" y="362.06" width="8" height="46.74" fill="#d5102e"/>
<rect x="476.8" y="327.27" width="8" height="81.53" fill="#3cb034"/>
<rect x="492.8" y="327.91" width="8" height="80.89" fill="#5b2270"/>
<circle cx="446.9" cy="342.03" r="2.9" fill="#fff" stroke="#231f20" stroke-width="0.95"/>
<circle cx="445.7" cy="346.4" r="2.9" fill="#fff" stroke="#231f20" stroke-width="0.95"/>
<circle cx="449.3" cy="344.86" r="2.9" fill="#fff" stroke="#231f20" stroke-width="0.95"/>
<circle cx="451.3" cy="346.78" r="2.9" fill="#fff" stroke="#231f20" stroke-width="0.95"/>
<circle cx="462.0" cy="355.9" r="2.9" fill="#fff" stroke="#231f20" stroke-width="0.95"/>
<circle cx="467.2" cy="355.9" r="2.9" fill="#fff" stroke="#231f20" stroke-width="0.95"/>
<circle cx="464.6" cy="357.44" r="2.9" fill="#fff" stroke="#231f20" stroke-width="0.95"/>
<circle cx="464.2" cy="380.55" r="2.9" fill="#fff" stroke="#231f20" stroke-width="0.95"/>
<circle cx="480.5" cy="322.52" r="2.9" fill="#fff" stroke="#231f20" stroke-width="0.95"/>
<circle cx="478.0" cy="324.95" r="2.9" fill="#fff" stroke="#231f20" stroke-width="0.95"/>
<circle cx="483.0" cy="327.52" r="2.9" fill="#fff" stroke="#231f20" stroke-width="0.95"/>
<circle cx="479.7" cy="334.33" r="2.9" fill="#fff" stroke="#231f20" stroke-width="0.95"/>
<circle cx="496.9" cy="313.91" r="2.9" fill="#fff" stroke="#231f20" stroke-width="0.95"/>
<circle cx="496.9" cy="322.9" r="2.9" fill="#fff" stroke="#231f20" stroke-width="0.95"/>
<circle cx="494.0" cy="331.5" r="2.9" fill="#fff" stroke="#231f20" stroke-width="0.95"/>
<circle cx="499.7" cy="329.96" r="2.9" fill="#fff" stroke="#231f20" stroke-width="0.95"/>
<circle cx="497.3" cy="329.58" r="2.9" fill="#fff" stroke="#231f20" stroke-width="0.95"/>
<line x1="448.40000000000003" y1="335" x2="462.5" y2="335" stroke="#333" stroke-width="1" />
<text x="455.45000000000005" y="334.6" font-size="7" text-anchor="middle" fill="#222" font-weight="bold" >**</text>
<line x1="465.6" y1="308.9" x2="480.1" y2="308.9" stroke="#333" stroke-width="1" />
<text x="472.85" y="308.5" font-size="7" text-anchor="middle" fill="#222" font-weight="bold" >***</text>
<line x1="464.1" y1="288.3" x2="496.8" y2="288.3" stroke="#6e6e6e" stroke-width="1.25" />
<text x="480.45000000000005" y="287.90000000000003" font-size="7" text-anchor="middle" fill="#222" font-weight="bold" >***</text>
<text transform="translate(417.996,356.7) rotate(-90)" x="0" y="0" font-size="8.6" text-anchor="middle" fill="#231f20" stroke="#231f20" stroke-width="0.32" textLength="94" lengthAdjust="spacingAndGlyphs">ATP production OCR (pmol/min)</text>
<rect x="15.8" y="421.7" width="11.2" height="5.2" fill="#1b4f94"/>
<text x="30.3" y="426.7" font-size="8" text-anchor="start" fill="#231f20" >T</text>
<rect x="15.8" y="433.3" width="11.2" height="5.2" fill="#d5102e"/>
<text x="30.3" y="438.1" font-size="8" text-anchor="start" fill="#231f20" textLength="22.6" lengthAdjust="spacingAndGlyphs" >T+aPC</text>
<rect x="56.2" y="421.7" width="11.2" height="5.2" fill="#3cb034"/>
<text x="70.3" y="426.7" font-size="8" text-anchor="start" fill="#231f20" textLength="43.4" lengthAdjust="spacingAndGlyphs" >T+aPC+&#945;KG</text>
<rect x="56.2" y="433.3" width="11.2" height="5.2" fill="#5b2270"/>
<text x="70.3" y="438.1" font-size="8" text-anchor="start" fill="#231f20" textLength="33.8" lengthAdjust="spacingAndGlyphs" >T+aPC+Q</text>
<line x1="0" y1="0.5" x2="520" y2="0.5" stroke="#626262" stroke-width="1" />
<line x1="0" y1="453.5" x2="520" y2="453.5" stroke="#505050" stroke-width="1" />
<line x1="0.5" y1="0" x2="0.5" y2="454" stroke="#474747" stroke-width="1" />
<line x1="519.5" y1="0" x2="519.5" y2="454" stroke="#5a5a5a" stroke-width="1" />
</svg>
</body></html>
